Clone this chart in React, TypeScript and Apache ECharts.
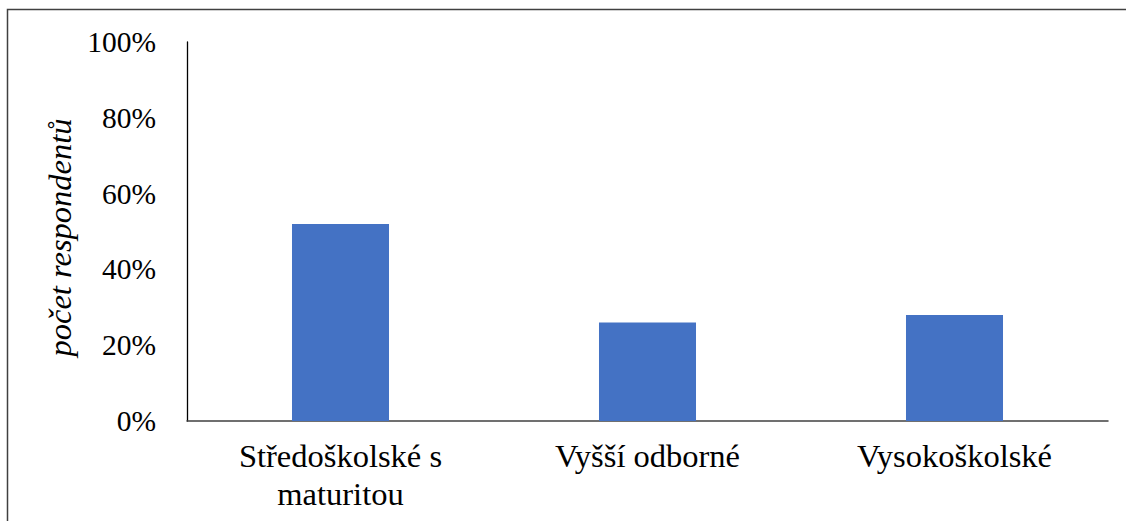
import React, { useEffect, useRef } from "react";
import * as echarts from "echarts";

const categories = ["Středoškolské s maturitou", "Vyšší odborné", "Vysokoškolské"];
const values = [0.52, 0.26, 0.28];
const yTicks = [0, 0.2, 0.4, 0.6, 0.8, 1];
const yAxisTitle = "počet respondentů";

const wrapLabel = (s: string, maxChars: number) => {
  if (s.length <= maxChars) return s;
  const cut = s.lastIndexOf(" ", maxChars);
  return cut > 0 ? s.slice(0, cut) + "\n" + s.slice(cut + 1) : s;
};

export default function App() {
  const ref = useRef<HTMLDivElement>(null);
  useEffect(() => {
    document.body.style.margin = "0";
    const chart = echarts.init(ref.current!, null, { renderer: "svg" });
    const font = "Liberation Serif";
    chart.setOption({
      animation: false,
      backgroundColor: "#ffffff",
      textStyle: { fontFamily: font },
      grid: { left: 187, right: 18, top: 42, bottom: 100, containLabel: false },
      xAxis: {
        type: "category",
        data: categories,
        axisLine: { show: true, lineStyle: { color: "#404040", width: 1.5 } },
        axisTick: { show: false },
        axisLabel: {
          color: "#000",
          fontFamily: font,
          fontSize: 32.5,
          lineHeight: 38,
          margin: 16,
          interval: 0,
          formatter: (v: string) => wrapLabel(v, 16),
        },
      },
      yAxis: {
        type: "value",
        min: yTicks[0],
        max: yTicks[yTicks.length - 1],
        interval: 0.2,
        name: yAxisTitle,
        nameLocation: "middle",
        nameGap: 87,
        nameTextStyle: { color: "#000", fontFamily: font, fontSize: 32.5, fontStyle: "italic", padding: [0, 12, 0, 0] },
        axisLine: { show: true, lineStyle: { color: "#000", width: 1.3 } },
        axisTick: { show: false },
        splitLine: { show: false },
        axisLabel: {
          color: "#000",
          fontFamily: font,
          fontSize: 29.5,
          margin: 31,
          formatter: (v: number) => Math.round(v * 100) + "%",
        },
      },
      series: [
        {
          type: "bar",
          data: values,
          barWidth: "31.6%",
          itemStyle: { color: "#4472C4" },
        },
      ],
      graphic: [
        {
          type: "rect",
          silent: true,
          shape: { x: 7.5, y: 9.5, width: 1140, height: 540 },
          style: { fill: "none", stroke: "#404040", lineWidth: 1.5 },
        },
      ],
    });
    return () => chart.dispose();
  }, []);
  return <div ref={ref} style={{ width: 1126, height: 521 }} />;
}
